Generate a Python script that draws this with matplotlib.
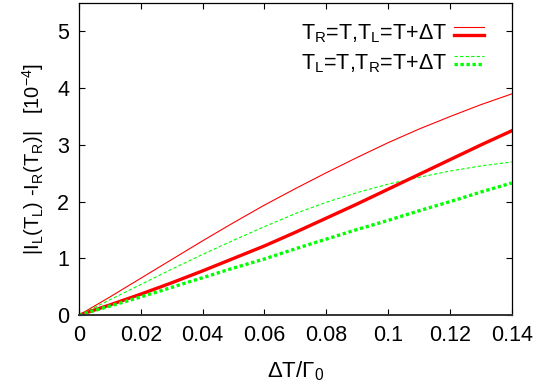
import numpy as np
import matplotlib
matplotlib.use('Agg')
import matplotlib.pyplot as plt
from matplotlib.lines import Line2D
from matplotlib.legend_handler import HandlerBase

plt.rcParams['font.family'] = ['Liberation Sans', 'DejaVu Sans']
plt.rcParams['mathtext.fontset'] = 'custom'
plt.rcParams['mathtext.rm'] = 'Liberation Sans'
plt.rcParams['mathtext.it'] = 'Liberation Sans:italic'
plt.rcParams['mathtext.cal'] = 'Liberation Serif'

# delta T / Gamma_0
dT = [0.0, 0.01, 0.02, 0.03, 0.04, 0.05, 0.06, 0.07,
      0.08, 0.09, 0.10, 0.11, 0.12, 0.13, 0.14]
# thin / thick curves, units of 1e-4
red_thin = [0.0, 0.32, 0.65, 0.98, 1.31, 1.63, 1.94, 2.23,
            2.51, 2.78, 3.04, 3.28, 3.50, 3.71, 3.90]
red_thick = [0.0, 0.18, 0.37, 0.57, 0.78, 1.00, 1.22, 1.46,
             1.71, 1.96, 2.22, 2.48, 2.74, 3.00, 3.25]
green_thin = [0.0, 0.27, 0.54, 0.81, 1.07, 1.32, 1.56, 1.79,
              1.99, 2.16, 2.31, 2.43, 2.54, 2.63, 2.70]
green_thick = [0.0, 0.16, 0.32, 0.49, 0.66, 0.83, 0.99, 1.17,
               1.34, 1.51, 1.67, 1.84, 2.00, 2.17, 2.33]

labels = [r'T$_\mathrm{R}$=T,T$_\mathrm{L}$=T+ΔT',
          r'T$_\mathrm{L}$=T,T$_\mathrm{R}$=T+ΔT']


class StackHandler(HandlerBase):
    # thin sample on top, thick sample below, like gnuplot's key
    def create_artists(self, legend, orig_handle, xdescent, ydescent,
                       width, height, fontsize, trans):
        out = []
        for h, f in zip(orig_handle, (0.85, 0.3)):
            y = -ydescent + f * height
            ln = Line2D([-xdescent, -xdescent + width], [y, y])
            ln.update_from(h)
            ln.set_transform(trans)
            out.append(ln)
        return out


fig = plt.figure(figsize=(5.37, 3.91), dpi=100)
ax = fig.add_axes([0.147, 0.194, 0.806, 0.798])

l1, = ax.plot(dT, red_thin, color='#ff0000', lw=0.8)
l3, = ax.plot(dT, green_thin, color='#00ff00', lw=0.8, dashes=(3, 2))
l2, = ax.plot(dT, red_thick, color='#ff0000', lw=2.4)
l4, = ax.plot(dT, green_thick, color='#00ff00', lw=2.4, dashes=(1, 0.8))

ax.set_xlim(0, 0.14)
ax.set_ylim(0, 5.5)
ax.set_xticks([0, 0.02, 0.04, 0.06, 0.08, 0.1, 0.12, 0.14])
ax.set_xticklabels(['0', '0.02', '0.04', '0.06', '0.08', '0.1', '0.12', '0.14'])
ax.set_yticks([0, 1, 2, 3, 4, 5])
ax.tick_params(direction='in', top=True, right=True, length=4, width=0.8,
               labelsize=15.5, pad=7)
for s in ax.spines.values():
    s.set_linewidth(0.9)
ax.spines['bottom'].set_linewidth(1.4)
ax.spines['bottom'].set_color('#333333')

ax.set_xlabel(r'ΔT/Γ$_0$', fontsize=16, labelpad=10)
ax.set_ylabel(r'|I$_\mathrm{L}$(T$_\mathrm{L}$) -I$_\mathrm{R}$(T$_\mathrm{R}$)|   [10$^{-4}$]',
              fontsize=14.5, labelpad=8)

ax.legend([(l1, l2), (l3, l4)], labels, handler_map={tuple: StackHandler()},
          loc='upper right', bbox_to_anchor=(0.97, 0.985), frameon=False,
          markerfirst=False, fontsize=15.5, handlelength=1.4, handletextpad=0.3,
          labelspacing=0.3, borderpad=0.2)

fig.savefig('out.png', dpi=100)
